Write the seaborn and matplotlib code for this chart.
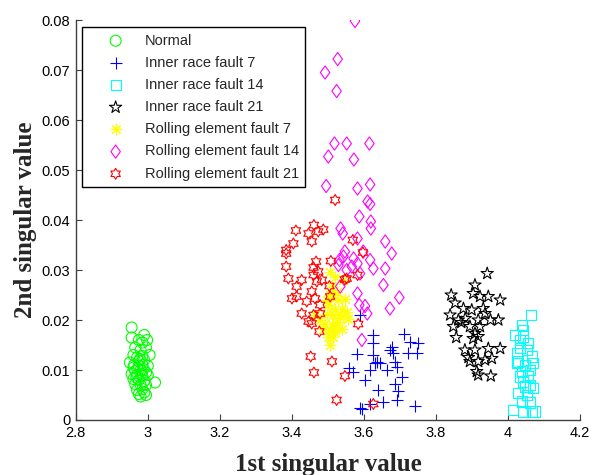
import numpy as np
import pandas as pd
import seaborn as sns
import matplotlib
matplotlib.use("Agg")
import matplotlib.pyplot as plt
from matplotlib.path import Path
from matplotlib.markers import MarkerStyle

# ---- data ----
normal_x = [2.955, 2.955, 2.975, 2.990, 2.985, 2.998, 2.965, 2.980, 2.995, 3.005,
            2.960, 2.970, 2.985, 2.975, 2.990, 2.950, 2.960, 2.975, 2.985, 3.000,
            2.965, 2.980, 2.995, 2.955, 2.970, 2.985, 3.000, 2.960, 2.975, 2.990,
            2.965, 2.980, 2.995, 3.020, 2.970, 2.985, 2.975, 2.990, 2.980, 2.995,
            2.962, 2.978, 2.988, 2.968, 2.982]
normal_y = [0.0185, 0.0165, 0.0160, 0.0170, 0.0155, 0.0160, 0.0145, 0.0140, 0.0145, 0.0130,
            0.0130, 0.0125, 0.0128, 0.0118, 0.0120, 0.0115, 0.0105, 0.0108, 0.0110, 0.0108,
            0.0098, 0.0100, 0.0095, 0.0092, 0.0090, 0.0088, 0.0090, 0.0082, 0.0080, 0.0078,
            0.0072, 0.0070, 0.0070, 0.0075, 0.0060, 0.0062, 0.0052, 0.0055, 0.0047, 0.0050,
            0.0110, 0.0122, 0.0102, 0.0085, 0.0093]

ir7_x = [3.589, 3.624, 3.624, 3.711, 3.728, 3.750, 3.677, 3.681, 3.581, 3.625,
         3.635, 3.645, 3.686, 3.691, 3.723, 3.746, 3.558, 3.570, 3.617, 3.663,
         3.705, 3.603, 3.639, 3.686, 3.695, 3.691, 3.652, 3.589, 3.617, 3.742,
         3.672, 3.631, 3.595]
ir7_y = [0.0210, 0.0170, 0.0154, 0.0172, 0.0156, 0.0154, 0.0147, 0.0134, 0.0132, 0.0130,
         0.0117, 0.0114, 0.0117, 0.0107, 0.0134, 0.0134, 0.0104, 0.0097, 0.0100, 0.0100,
         0.0087, 0.0080, 0.0059, 0.0072, 0.0057, 0.0040, 0.0035, 0.0024, 0.0032, 0.0027,
         0.0140, 0.0114, 0.0022]

ir14_x = [4.064, 4.038, 4.019, 4.042, 4.056, 4.033, 4.066, 4.028, 4.047, 4.069,
          4.038, 4.056, 4.042, 4.061, 4.069, 4.028, 4.052, 4.061, 4.014, 4.042,
          4.066, 4.038, 4.024, 4.052, 4.042, 4.024, 4.061, 4.033, 4.047, 4.075,
          4.033]
ir14_y = [0.0210, 0.0190, 0.0170, 0.0167, 0.0154, 0.0144, 0.0127, 0.0117, 0.0110, 0.0114,
          0.0097, 0.0087, 0.0077, 0.0070, 0.0064, 0.0054, 0.0050, 0.0035, 0.0020, 0.0017,
          0.0017, 0.0037, 0.0134, 0.0140, 0.0180, 0.0114, 0.0100, 0.0087, 0.0067, 0.0017,
          0.0160]

ir21_x = [3.942, 3.908, 3.903, 3.922, 3.945, 3.978, 3.876, 3.899, 3.931, 3.936,
          3.881, 3.917, 3.951, 3.973, 3.894, 3.922, 3.908, 3.917, 3.903, 3.908,
          3.945, 3.978, 3.894, 3.917, 3.936, 3.955, 3.913, 3.917, 3.952, 3.853,
          3.839, 3.848, 3.842, 3.862, 3.870, 3.856, 3.880, 3.890]
ir21_y = [0.0293, 0.0270, 0.0253, 0.0247, 0.0247, 0.0240, 0.0223, 0.0220, 0.0223, 0.0213,
          0.0203, 0.0200, 0.0200, 0.0200, 0.0187, 0.0187, 0.0173, 0.0167, 0.0163, 0.0140,
          0.0143, 0.0143, 0.0117, 0.0117, 0.0120, 0.0123, 0.0097, 0.0090, 0.0088, 0.0234,
          0.0210, 0.0187, 0.0250, 0.0200, 0.0195, 0.0165, 0.0140, 0.0125]

re7_x = [3.506, 3.520, 3.542, 3.511, 3.514, 3.528, 3.547, 3.500, 3.520, 3.538,
         3.497, 3.514, 3.533, 3.556, 3.492, 3.511, 3.528, 3.487, 3.506, 3.520,
         3.538, 3.500, 3.514, 3.506, 3.464, 3.478, 3.506, 3.524, 3.497, 3.533,
         3.552, 3.520]
re7_y = [0.0297, 0.0287, 0.0280, 0.0267, 0.0250, 0.0240, 0.0243, 0.0230, 0.0223, 0.0223,
         0.0213, 0.0210, 0.0207, 0.0203, 0.0193, 0.0193, 0.0197, 0.0183, 0.0180, 0.0177,
         0.0183, 0.0167, 0.0167, 0.0150, 0.0210, 0.0200, 0.0250, 0.0257, 0.0240, 0.0213,
         0.0217, 0.0187]

re14_x = [3.575, 3.527, 3.492, 3.524, 3.518, 3.552, 3.615, 3.501, 3.572, 3.495,
          3.582, 3.617, 3.610, 3.617, 3.587, 3.619, 3.619, 3.535, 3.541, 3.582,
          3.659, 3.677, 3.598, 3.547, 3.571, 3.532, 3.617, 3.582, 3.529, 3.626,
          3.659, 3.552, 3.589, 3.654, 3.534, 3.582, 3.698, 3.587, 3.603, 3.672,
          3.609, 3.594, 3.543, 3.566]
re14_y = [0.0798, 0.0722, 0.0695, 0.0658, 0.0553, 0.0553, 0.0553, 0.0527, 0.0521, 0.0468,
          0.0463, 0.0471, 0.0437, 0.0432, 0.0407, 0.0397, 0.0383, 0.0383, 0.0373, 0.0363,
          0.0357, 0.0333, 0.0337, 0.0337, 0.0323, 0.0320, 0.0320, 0.0313, 0.0310, 0.0303,
          0.0303, 0.0300, 0.0293, 0.0270, 0.0267, 0.0253, 0.0245, 0.0230, 0.0228, 0.0223,
          0.0213, 0.0160, 0.0327, 0.0307]

re21_x = [3.520, 3.461, 3.473, 3.487, 3.446, 3.455, 3.411, 3.404, 3.384, 3.384,
          3.384, 3.390, 3.427, 3.460, 3.473, 3.460, 3.469, 3.413, 3.455, 3.400,
          3.413, 3.464, 3.478, 3.427, 3.478, 3.460, 3.446, 3.455, 3.476, 3.584,
          3.569, 3.597, 3.508, 3.552, 3.547, 3.582, 3.506, 3.504, 3.452, 3.511,
          3.461, 3.547, 3.524, 3.626, 3.483, 3.467, 3.441]
re21_y = [0.0440, 0.0390, 0.0377, 0.0381, 0.0373, 0.0357, 0.0379, 0.0353, 0.0340, 0.0333,
          0.0307, 0.0283, 0.0280, 0.0305, 0.0297, 0.0290, 0.0277, 0.0267, 0.0257, 0.0243,
          0.0247, 0.0243, 0.0230, 0.0213, 0.0213, 0.0210, 0.0197, 0.0193, 0.0177, 0.0192,
          0.0360, 0.0335, 0.0318, 0.0283, 0.0281, 0.0290, 0.0247, 0.0268, 0.0127, 0.0117,
          0.0095, 0.0088, 0.0040, 0.0032, 0.0280, 0.0317, 0.0237]

class_names = ["Normal", "Inner race fault 7", "Inner race fault 14", "Inner race fault 21",
               "Rolling element fault 7", "Rolling element fault 14", "Rolling element fault 21"]
x_ticks = [2.8, 3.0, 3.2, 3.4, 3.6, 3.8, 4.0, 4.2]
x_tick_labels = ["2.8", "3", "3.2", "3.4", "3.6", "3.8", "4", "4.2"]
y_ticks = [0, 0.01, 0.02, 0.03, 0.04, 0.05, 0.06, 0.07, 0.08]
y_tick_labels = ["0", "0.01", "0.02", "0.03", "0.04", "0.05", "0.06", "0.07", "0.08"]

# ---- markers (MATLAB look) ----
hexagram = MarkerStyle(Path.unit_regular_star(6, innerCircle=0.577))
diamond = MarkerStyle(Path([(0, 1), (0.72, 0), (0, -1), (-0.72, 0), (0, 1)],
                           [Path.MOVETO, Path.LINETO, Path.LINETO, Path.LINETO, Path.CLOSEPOLY]))

estilos = [
    (normal_x, normal_y, "#00ff00", "o", 62, True),
    (ir7_x, ir7_y, "#0000ff", "+", 75, False),
    (ir14_x, ir14_y, "#00ffff", "s", 52, True),
    (ir21_x, ir21_y, "black", "*", 85, True),
    (re7_x, re7_y, "#ffff00", (8, 2, 0), 60, False),
    (re14_x, re14_y, "#ff00ff", diamond, 90, True),
    (re21_x, re21_y, "#ff0000", hexagram, 62, True),
]

sns.set_theme(style="white")
plt.rcParams["font.family"] = ["Liberation Sans", "DejaVu Sans"]
plt.rcParams["xtick.direction"] = "in"
plt.rcParams["ytick.direction"] = "in"

fig = plt.figure(figsize=(5.92, 4.75), dpi=100)
ax = fig.add_axes([0.128, 0.1158, 0.852, 0.842])

for nome, (xs, ys, cor, marcador, tam, preenchivel) in zip(class_names, estilos):
    df = pd.DataFrame({"x": xs, "y": ys})
    if preenchivel:
        sns.scatterplot(data=df, x="x", y="y", ax=ax, marker=marcador, s=tam,
                        color=cor, facecolor="none", edgecolor=cor, linewidth=0.8, label=nome)
    else:
        sns.scatterplot(data=df, x="x", y="y", ax=ax, marker=marcador, s=tam,
                        color=cor, linewidth=0.8, label=nome)

ax.set_xlim(2.8, 4.2)
ax.set_ylim(0, 0.08)
ax.set_xticks(x_ticks)
ax.set_xticklabels(x_tick_labels)
ax.set_yticks(y_ticks)
ax.set_yticklabels(y_tick_labels)
ax.tick_params(axis="both", labelsize=10.5, length=4, width=0.8, color="#404040",
               labelcolor="black", pad=4, left=True, bottom=True)

for lado in ["top", "right"]:
    ax.spines[lado].set_visible(False)
for lado in ["left", "bottom"]:
    ax.spines[lado].set_color("#404040")
    ax.spines[lado].set_linewidth(1.0)

ax.set_xlabel("1st singular value", fontsize=18, fontweight="bold",
              family=["Liberation Serif", "DejaVu Serif"], labelpad=10)
ax.set_ylabel("2nd singular value", fontsize=18, fontweight="bold",
              family=["Liberation Serif", "DejaVu Serif"], labelpad=3)

leg = ax.legend(loc="upper left", bbox_to_anchor=(0.0125, 0.9825), borderaxespad=0,
                fontsize=10.5, frameon=True, fancybox=False, framealpha=1,
                borderpad=0.45, handlelength=3.7, handletextpad=0.15, labelspacing=0.56)
leg.get_frame().set_edgecolor("black")
leg.get_frame().set_linewidth(1.0)

plt.savefig("out.png", dpi=100)
